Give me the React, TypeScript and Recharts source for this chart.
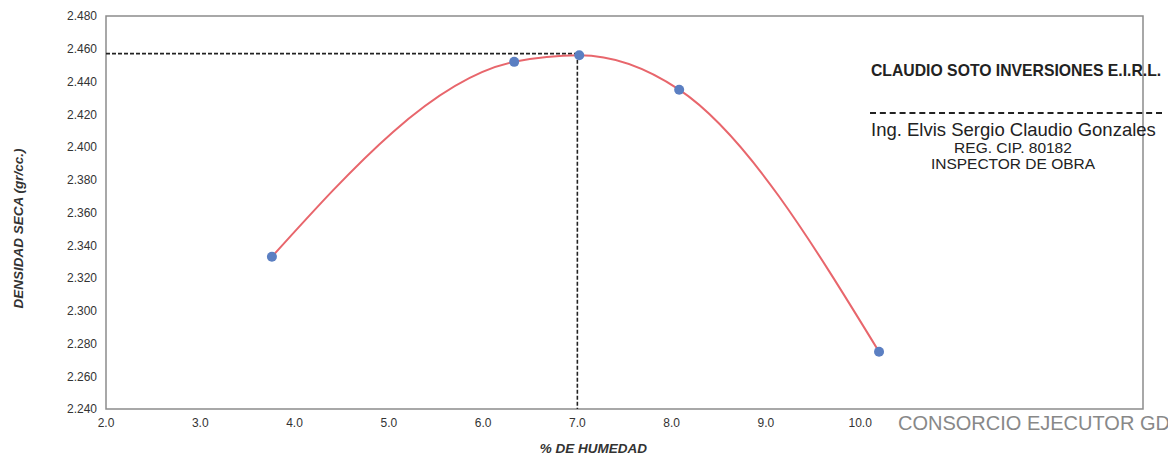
import { ComposedChart, Line, XAxis, YAxis, ReferenceLine, ReferenceArea, Label } from 'recharts';

// Proctor test points
const moisture = [3.76, 6.33, 7.02, 8.08, 10.2];
const density = [2.333, 2.452, 2.456, 2.435, 2.275];

const xTicks = [2, 3, 4, 5, 6, 7, 8, 9, 10];
const yTicks = [2.24, 2.26, 2.28, 2.3, 2.32, 2.34, 2.36, 2.38, 2.4, 2.42, 2.44, 2.46, 2.48];

// optimum moisture / max dry density
const optimumMoisture = 7.0;
const maxDryDensity = 2.457;

const FONT = '"Liberation Sans", Arial, sans-serif';

const App = () => {
    const data = moisture.map((m, i) => ({ moisture: m, density: density[i] }));

    return (
        <div style={{ position: 'absolute', left: 0, top: 0, width: 1168, height: 459, background: '#fff', fontFamily: FONT }}>
            <ComposedChart width={1168} height={459} data={data} margin={{ top: 16, right: 25, left: 36, bottom: 20 }}>
                <ReferenceArea x1={2} x2={13} y1={2.24} y2={2.48} fill="none" stroke="#8c8c8c" strokeWidth={1.5} ifOverflow="visible" />
                <XAxis
                    dataKey="moisture"
                    type="number"
                    domain={[2, 13]}
                    ticks={xTicks}
                    tickFormatter={(v: number) => v.toFixed(1)}
                    axisLine={false}
                    tickLine={false}
                    tickSize={0}
                    tickMargin={9}
                    height={30}
                    tick={{ fill: '#333', fontSize: 12, fontFamily: FONT }}
                >
                    <Label
                        value="% DE HUMEDAD"
                        position="insideBottom"
                        offset={-14}
                        dx={-31}
                        style={{ fill: '#333', fontSize: 13.5, fontWeight: 700, fontStyle: 'italic', fontFamily: FONT }}
                    />
                </XAxis>
                <YAxis
                    type="number"
                    domain={[2.24, 2.48]}
                    ticks={yTicks}
                    tickFormatter={(v: number) => v.toFixed(3)}
                    axisLine={false}
                    tickLine={false}
                    tickSize={0}
                    tickMargin={9}
                    width={70}
                    tick={{ fill: '#333', fontSize: 12, fontFamily: FONT }}
                >
                    <Label
                        value="DENSIDAD SECA (gr/cc.)"
                        angle={-90}
                        position="insideLeft"
                        offset={-18}
                        dy={16}
                        style={{ fill: '#333', fontSize: 13.5, fontWeight: 700, fontStyle: 'italic', fontFamily: FONT, textAnchor: 'middle' }}
                    />
                </YAxis>
                <ReferenceLine
                    segment={[{ x: 2, y: maxDryDensity }, { x: optimumMoisture, y: maxDryDensity }]}
                    stroke="#222"
                    strokeWidth={1.6}
                    strokeDasharray="4 2"
                />
                <ReferenceLine
                    segment={[{ x: optimumMoisture, y: maxDryDensity }, { x: optimumMoisture, y: 2.24 }]}
                    stroke="#222"
                    strokeWidth={1.6}
                    strokeDasharray="4 2"
                />
                <Line
                    type="monotoneX"
                    dataKey="density"
                    stroke="#e8666c"
                    strokeWidth={2}
                    dot={{ r: 5, fill: '#5b7fc2', stroke: 'none' }}
                    activeDot={false}
                    isAnimationActive={false}
                />
            </ComposedChart>

            {/* stamp / signature block */}
            <div style={{ position: 'absolute', left: 871, top: 62, fontSize: 15.75, fontWeight: 700, color: '#222', whiteSpace: 'nowrap' }}>
                CLAUDIO SOTO INVERSIONES E.I.R.L.
            </div>
            <div style={{ position: 'absolute', left: 870, top: 112, width: 292, borderTop: '2px dashed #222' }} />
            <div style={{ position: 'absolute', left: 871, top: 121, fontSize: 18.5, lineHeight: '18px', color: '#222', whiteSpace: 'nowrap' }}>
                Ing. Elvis Sergio Claudio Gonzales
            </div>
            <div style={{ position: 'absolute', left: 872, width: 282, top: 140, fontSize: 15.5, color: '#222', textAlign: 'center', lineHeight: '16px' }}>
                REG. CIP. 80182<br />INSPECTOR DE OBRA
            </div>
            <div style={{ position: 'absolute', left: 898, top: 412, fontSize: 20, color: '#888', whiteSpace: 'nowrap' }}>
                CONSORCIO EJECUTOR GD
            </div>
        </div>
    );
};

export default App;
